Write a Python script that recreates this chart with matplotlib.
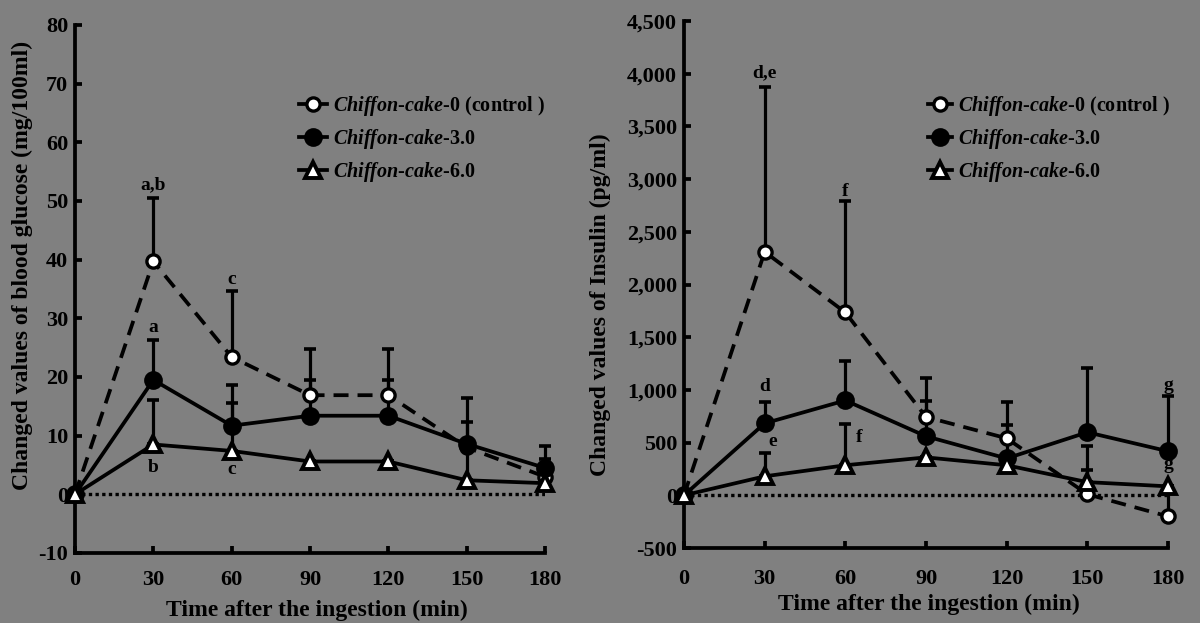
import numpy as np
import matplotlib
matplotlib.use("Agg")
import matplotlib.pyplot as plt
from matplotlib.lines import Line2D

plt.rcParams['font.family'] = ['Liberation Serif', 'DejaVu Serif']
plt.rcParams['font.weight'] = 'bold'
plt.rcParams['mathtext.fontset'] = 'custom'
plt.rcParams['mathtext.bfit'] = 'Liberation Serif:italic:bold'
plt.rcParams['mathtext.rm'] = 'Liberation Serif:bold'
plt.rcParams['mathtext.it'] = 'Liberation Serif:italic:bold'
plt.rcParams['mathtext.bf'] = 'Liberation Serif:bold'

# ---------------- data ----------------
time_min = [0, 30, 60, 90, 120, 150, 180]
x_ticks = [0, 30, 60, 90, 120, 150, 180]

series_labels = [r"$\mathbfit{Chiffon}$-$\mathbfit{cake}$-0 (control )",
                 r"$\mathbfit{Chiffon}$-$\mathbfit{cake}$-3.0",
                 r"$\mathbfit{Chiffon}$-$\mathbfit{cake}$-6.0"]

# blood glucose (mg/100ml)
glu_ctrl = [0, 39.7, 23.4, 16.9, 16.9, 8.0, 3.0]
glu_ctrl_up = [0, 50.5, 34.7, 24.8, 24.8, 12.4, 6.1]
glu_c30 = [0, 19.5, 11.7, 13.4, 13.4, 8.6, 4.5]
glu_c30_up = [0, 26.3, 18.7, 19.5, 19.5, 16.5, 8.2]
glu_c60 = [0, 8.5, 7.4, 5.6, 5.6, 2.4, 1.9]
glu_c60_up = [0, 16.0, 15.6, 5.6, 5.6, 8.0, 1.9]
glu_yticks = [-10, 0, 10, 20, 30, 40, 50, 60, 70, 80]
glu_letters = [("a,b", 30, 52.8), ("c", 60, 36.6), ("a", 30, 28.5),
               ("b", 30, 4.6), ("c", 60, 4.2)]

# insulin (pg/ml)
ins_ctrl = [0, 2310, 1735, 743, 541, 10, -200]
ins_ctrl_up = [0, 3870, 2790, 1110, 882, 237, 85]
ins_c30 = [0, 683, 900, 560, 350, 598, 418]
ins_c30_up = [0, 882, 1272, 892, 664, 1205, 940]
ins_c60 = [0, 180, 285, 360, 285, 125, 85]
ins_c60_up = [0, 400, 674, 360, 285, 465, 85]
ins_yticks = [-500, 0, 500, 1000, 1500, 2000, 2500, 3000, 3500, 4000, 4500]
ins_letters = [("d,e", 30, 4010), ("f", 60, 2880), ("d", 30, 1035),
               ("e", 33, 515), ("f", 65, 550), ("g", 180, 1045), ("g", 180, 295)]

BG = "#808080"
fig = plt.figure(figsize=(12, 6.23), dpi=100, facecolor=BG)

ax1 = fig.add_axes([75/1200, 1-553/623, 470/1200, 528/623])
ax2 = fig.add_axes([684/1200, 1-548/623, 484/1200, 527/623])

styles = [dict(ls=(0, (4, 2.4)), marker='o', mfc='white', ms=9.5, mew=2.4),
          dict(ls='-', marker='o', mfc='black', ms=11.5, mew=2.0),
          dict(ls='-', marker='^', mfc='white', ms=11, mew=2.8)]


def draw(ax, vals, ups, yticks, ylim, letters, leg_x, fmt, hlen):
    ax.set_facecolor(BG)
    for sp in ['top', 'right']:
        ax.spines[sp].set_visible(False)
    for sp in ['left', 'bottom']:
        ax.spines[sp].set_linewidth(2.7)
    ax.axhline(0, color='black', lw=2.4, ls=(0, (1, 1.0)), zorder=1)
    handles = []
    for (v, u, st, lab) in zip(vals, ups, styles, series_labels):
        v = np.array(v, float)
        u = np.array(u, float)
        ax.errorbar(time_min, v, yerr=[np.zeros_like(v), u - v], fmt='none',
                    ecolor='black', elinewidth=2.3, capsize=4, capthick=2.6,
                    clip_on=False, zorder=2)
        h, = ax.plot(time_min, v, color='black', lw=2.7, mec='black',
                     clip_on=False, zorder=3, label=lab, **st)
        handles.append(h)
    ax.set_xlim(0, 180)
    ax.set_ylim(*ylim)
    ax.set_xticks(x_ticks)
    ax.set_yticks(yticks)
    ax.set_yticklabels([fmt(t) for t in yticks])
    ax.tick_params(axis='both', direction='in', length=5, width=2.7,
                   labelsize=16)
    ax.tick_params(axis='y', pad=5)
    for (t, x, y) in letters:
        ax.text(x, y, t, ha='center', va='center', fontsize=14,
                fontweight='bold')
    proxies = [Line2D([], [], color='black', lw=2.7, marker=h.get_marker(),
                      mfc=h.get_markerfacecolor(), mec='black',
                      ms=h.get_markersize(), mew=h.get_markeredgewidth())
               for h in handles]
    ax.legend(handles=proxies, labels=series_labels, loc='upper left',
              bbox_to_anchor=leg_x, bbox_transform=fig.transFigure,
              frameon=False, fontsize=14.5, handlelength=hlen,
              handletextpad=0.3, labelspacing=0.45, borderpad=0)
    return ax


draw(ax1, [glu_ctrl, glu_c30, glu_c60], [glu_ctrl_up, glu_c30_up, glu_c60_up],
     glu_yticks, (-10, 80), glu_letters, (289/1200, 1-84/623), lambda t: f"{t:d}", 1.4)
draw(ax2, [ins_ctrl, ins_c30, ins_c60], [ins_ctrl_up, ins_c30_up, ins_c60_up],
     ins_yticks, (-500, 4500), ins_letters, (918/1200, 1-84/623), lambda t: f"{t:,d}", 1.2)
ax1.tick_params(axis='x', pad=12)
ax2.tick_params(axis='x', pad=15)

fig.text(22/1200, 1-265/623, "Changed values of blood glucose (mg/100ml)",
         rotation=90, ha='center', va='center', fontsize=17, fontweight='bold')
fig.text(600/1200, 1-305/623, "Changed values of Insulin (pg/ml)",
         rotation=90, ha='center', va='center', fontsize=17, fontweight='bold')
fig.text(317/1200, 1-610/623, "Time after the ingestion (min)",
         ha='center', va='center', fontsize=17, fontweight='bold')
fig.text(929/1200, 1-604/623, "Time after the ingestion (min)",
         ha='center', va='center', fontsize=17, fontweight='bold')

fig.savefig("out.png", dpi=100, facecolor=BG)
